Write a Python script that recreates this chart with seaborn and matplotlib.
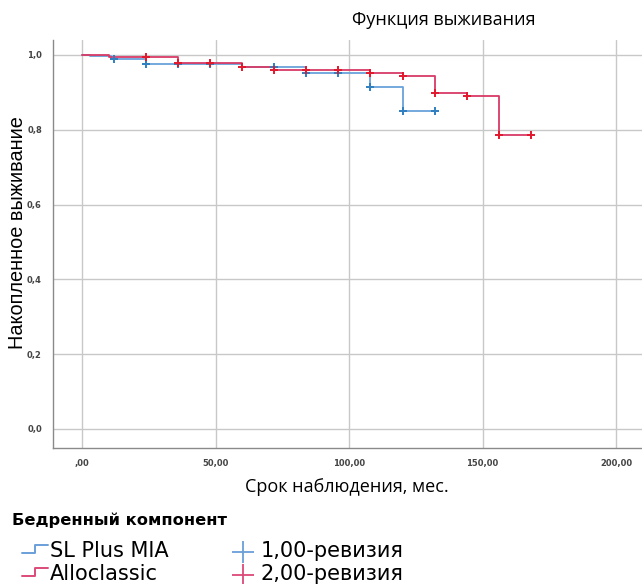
import numpy as np
import pandas as pd
import matplotlib
matplotlib.use("Agg")
import matplotlib.pyplot as plt
from matplotlib.lines import Line2D
import seaborn as sns

# Kaplan-Meier steps (time in months, cumulative survival)
sl_times = [0, 3, 11, 24, 60, 84, 108, 120, 132]
sl_surv = [1.0, 0.997, 0.989, 0.976, 0.968, 0.953, 0.915, 0.850, 0.850]
sl_cens_t = [12, 24, 36, 48, 72, 84, 96, 108, 120, 132]
sl_cens_s = [0.989, 0.976, 0.976, 0.976, 0.968, 0.953, 0.953, 0.915, 0.850, 0.850]

al_times = [0, 10, 36, 60, 72, 108, 120, 132, 144, 156, 168]
al_surv = [1.0, 0.995, 0.978, 0.968, 0.960, 0.951, 0.944, 0.898, 0.889, 0.786, 0.786]
al_cens_t = [24, 36, 48, 60, 72, 84, 96, 108, 120, 132, 144, 156, 168]
al_cens_s = [0.995, 0.978, 0.978, 0.968, 0.960, 0.960, 0.960, 0.951, 0.944, 0.898, 0.889, 0.786, 0.786]

groups = ["SL Plus MIA", "Alloclassic"]
cens_labels = ["1,00-ревизия", "2,00-ревизия"]
x_ticks = [0, 50, 100, 150, 200]
x_ticklabels = [",00", "50,00", "100,00", "150,00", "200,00"]
y_ticks = [0.0, 0.2, 0.4, 0.6, 0.8, 1.0]
y_ticklabels = ["0,0", "0,2", "0,4", "0,6", "0,8", "1,0"]

line_colors = {"SL Plus MIA": "#6aa3da", "Alloclassic": "#d83a66"}
mark_colors = {"SL Plus MIA": "#2f7fc1", "Alloclassic": "#e3182d"}
legend_colors = {"SL Plus MIA": "#6a9fd8", "Alloclassic": "#dc4a78"}

curves = pd.concat([
    pd.DataFrame({"t": sl_times, "s": sl_surv, "g": groups[0]}),
    pd.DataFrame({"t": al_times, "s": al_surv, "g": groups[1]}),
])
censored = pd.concat([
    pd.DataFrame({"t": sl_cens_t, "s": sl_cens_s, "g": groups[0]}),
    pd.DataFrame({"t": al_cens_t, "s": al_cens_s, "g": groups[1]}),
])

sns.set_style("white")
plt.rcParams["font.family"] = ["DejaVu Sans"]

W, H = 642, 584
fig = plt.figure(figsize=(W / 100, H / 100), dpi=100)
ax = fig.add_axes([53 / W, (H - 448) / H, (W - 53) / W, (448 - 40) / H])

for g in groups:
    sub = curves[curves.g == g]
    sns.lineplot(x=sub.t, y=sub.s, ax=ax, drawstyle="steps-post",
                 color=line_colors[g], lw=1.3, estimator=None, sort=False,
                 legend=False, zorder=3)
for g in groups:
    sub = censored[censored.g == g]
    sns.scatterplot(x=sub.t, y=sub.s, ax=ax, marker="+", s=40,
                    color=mark_colors[g], linewidth=1.4, legend=False, zorder=4)

ax.set_xlim(-10.9, 209.7)
ax.set_ylim(-0.051, 1.04)
ax.set_xticks(x_ticks)
ax.set_xticklabels(x_ticklabels, fontsize=6, fontweight="bold", color="#444444")
ax.set_yticks(y_ticks)
ax.set_yticklabels(y_ticklabels, fontsize=6, fontweight="bold", color="#444444")
ax.tick_params(length=0, pad=8)
ax.grid(True, color="#c8c8c8", lw=1)
ax.set_axisbelow(True)
for side in ["top", "right"]:
    ax.spines[side].set_visible(False)
for side in ["left", "bottom"]:
    ax.spines[side].set_color("#8a8a8a")
    ax.spines[side].set_linewidth(1)
ax.set_xlabel("")
ax.set_ylabel("")

fig.text(444 / W, 1 - 20 / H, "Функция выживания", ha="center", va="center",
         fontsize=13, family="Open Sans", color="black")
fig.text(347 / W, 1 - 487 / H, "Срок наблюдения, мес.", ha="center", va="center",
         fontsize=13, family="Open Sans", color="black")
fig.text(18 / W, 1 - 233 / H, "Накопленное выживание", ha="center", va="center",
         rotation=90, fontsize=14.3, family="Liberation Sans", color="black")

# legend
fig.text(12 / W, 1 - 520 / H, "Бедренный компонент", ha="left", va="center",
         fontsize=11.7, fontweight="bold", family="DejaVu Sans", color="black")
for i, g in enumerate(groups):
    yb = 553 + i * 23
    xs = np.array([22, 35, 35, 48]) / W
    ys = 1 - np.array([yb, yb, yb - 8, yb - 8]) / H
    fig.add_artist(Line2D(xs, ys, color=legend_colors[g], lw=1.4))
    fig.text(50 / W, 1 - (yb - 2) / H, g, ha="left", va="center",
             fontsize=15, family="DejaVu Sans", color="black")
    fig.add_artist(Line2D([243 / W], [1 - (yb - 1) / H], marker="+", ms=16,
                          mew=1.3, color=legend_colors[g]))
    fig.text(261 / W, 1 - (yb - 2) / H, cens_labels[i], ha="left", va="center",
             fontsize=15, family="DejaVu Sans", color="black")

fig.savefig("out.png", dpi=100)
